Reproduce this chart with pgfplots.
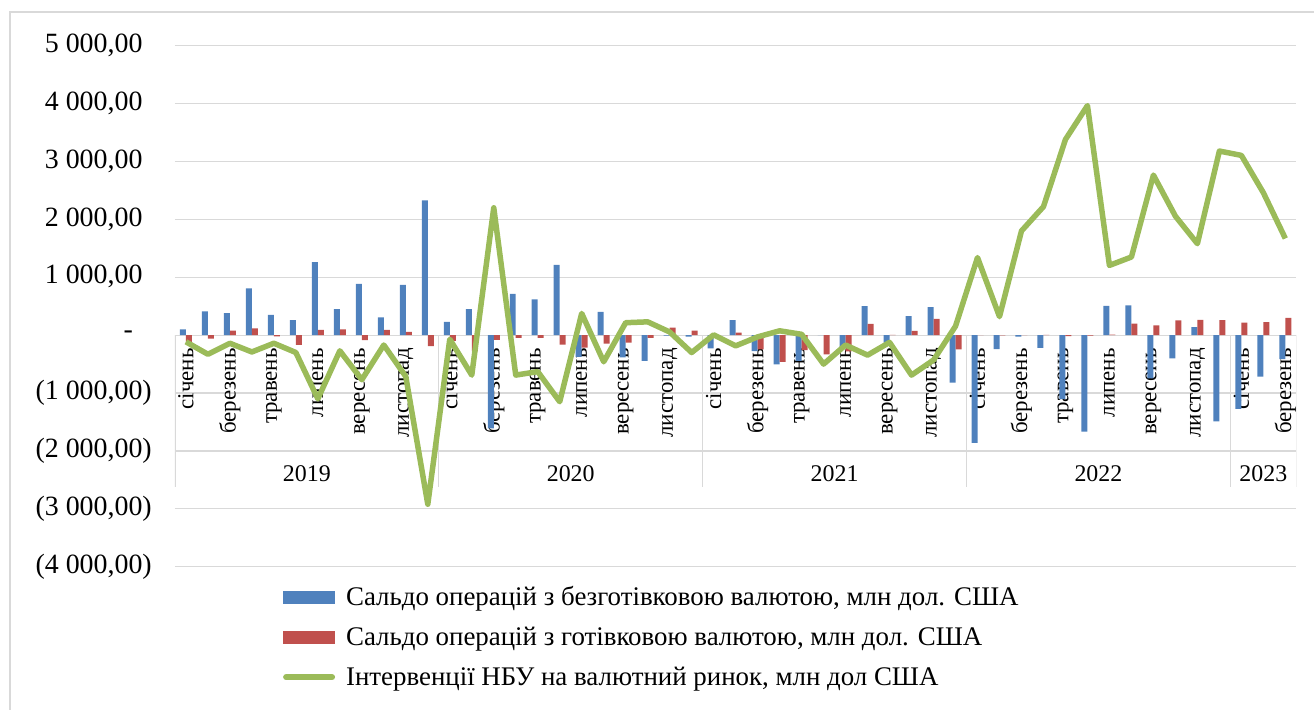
\documentclass[border=0pt]{standalone}
\usepackage{pgfplots}
\pgfplotsset{compat=1.18}
\usepackage{pgfplotstable}
\usepackage{fontspec}
\setmainfont{Liberation Serif}
\definecolor{cblue}{HTML}{4F81BD}
\definecolor{cred}{HTML}{C0504D}
\definecolor{cgreen}{HTML}{9BBB59}
\definecolor{cgrid}{HTML}{D9D9D9}
\pgfplotstableread{
x B R N
0 100 -120 -115
1 410 -60 -330
2 380 80 -140
3 810 115 -290
4 350 -20 -140
5 260 -170 -300
6 1260 90 -1100
7 450 100 -270
8 885 -85 -770
9 305 90 -170
10 870 55 -715
11 2330 -190 -2920
12 230 -100 -70
13 450 -280 -690
14 -1610 -80 2200
15 715 -45 -690
16 620 -45 -630
17 1215 -165 -1150
18 -375 -215 375
19 400 -145 -460
20 -385 -130 215
21 -445 -45 230
22 -10 130 55
23 -25 80 -300
24 -230 0 5
25 260 45 -185
26 -275 -245 -30
27 -505 -460 75
28 -445 -260 15
29 0 -330 -500
30 -210 -280 -170
31 500 196 -345
32 -130 5 -125
33 330 75 -690
34 485 280 -430
35 -820 -245 155
36 -1860 0 1340
37 -240 -5 320
38 -25 0 1800
39 -220 5 2220
40 -1105 -15 3380
41 -1665 -10 3965
42 505 10 1205
43 515 200 1350
44 -745 170 2765
45 -400 255 2055
46 140 265 1580
47 -1490 260 3180
48 -1275 215 3105
49 -715 225 2460
50 -415 300 1670
}\data
\begin{document}
\begin{tikzpicture}
\path (0,0) rectangle (1315bp,710bp);
\draw[cgrid, line width=1.2bp] (10bp,0) -- (10bp,698bp) -- (1315bp,698bp);
\begin{axis}[
  at={(175bp,143bp)}, anchor=south west,
  scale only axis, width=1122bp, height=521.3bp,
  set layers,
  xmin=-0.5, xmax=50.5, ymin=-4000, ymax=5000,
  axis x line*=middle, axis y line*=left,
  x axis line style={draw=cgrid, line width=1.2bp},
  y axis line style={draw=none},
  ymajorgrids, major grid style={draw=cgrid, line width=1.2bp},
  major tick length=0pt,
  ytick={-4000,-3000,...,5000},
  yticklabels={{(4 000,00)},{(3 000,00)},{(2 000,00)},{(1 000,00)},{\makebox[28bp][l]{-}},{1 000,00\phantom{)}},{2 000,00\phantom{)}},{3 000,00\phantom{)}},{4 000,00\phantom{)}},{5 000,00\phantom{)}}},
  yticklabel style={font=\fontsize{28}{32}\selectfont, anchor=east, inner sep=0pt, xshift=-23bp},
  xtick={0,2,...,50},
  xticklabels={січень,березень,травень,липень,вересень,листопад,січень,березень,травень,липень,вересень,листопад,січень,березень,травень,липень,вересень,листопад,січень,березень,травень,липень,вересень,листопад,січень,березень},
  xticklabel style={font=\fontsize{23}{27}\selectfont, rotate=90, anchor=east, inner sep=0pt},
  xticklabel shift=13bp,
  ybar=0pt, bar width=6bp,
  legend style={at={(0.0963,-0.034)}, anchor=north west, draw=none, fill=none, inner sep=0pt,
    font=\fontsize{27}{32}\selectfont, row sep=16bp, cells={anchor=west},
    /tikz/every odd column/.append style={column sep=9bp}},
  legend cell align=left,
]
\draw[cgrid, line width=1.2bp] (axis cs:-0.5,0) -- (axis cs:-0.5,-2620);
\draw[cgrid, line width=1.2bp] (axis cs:11.5,0) -- (axis cs:11.5,-2620);
\draw[cgrid, line width=1.2bp] (axis cs:23.5,0) -- (axis cs:23.5,-2620);
\draw[cgrid, line width=1.2bp] (axis cs:35.5,0) -- (axis cs:35.5,-2620);
\draw[cgrid, line width=1.2bp] (axis cs:47.5,0) -- (axis cs:47.5,-2620);
\draw[cgrid, line width=1.2bp] (axis cs:50.5,0) -- (axis cs:50.5,-2620);
\node[font=\fontsize{24}{28}\selectfont, anchor=base, inner sep=0pt] at (axis cs:5.5,-2533) {2019};
\node[font=\fontsize{24}{28}\selectfont, anchor=base, inner sep=0pt] at (axis cs:17.5,-2533) {2020};
\node[font=\fontsize{24}{28}\selectfont, anchor=base, inner sep=0pt] at (axis cs:29.5,-2533) {2021};
\node[font=\fontsize{24}{28}\selectfont, anchor=base, inner sep=0pt] at (axis cs:41.5,-2533) {2022};
\node[font=\fontsize{24}{28}\selectfont, anchor=base, inner sep=0pt] at (axis cs:49,-2533) {2023};
\addplot[fill=cblue, draw=none, legend image code/.code={\fill[cblue] (0bp,-6.5bp) rectangle (52bp,6.5bp);}] table[x=x, y=B] {\data};
\addlegendentry{Сальдо операцій з безготівковою валютою, млн дол. США}
\addplot[fill=cred, draw=none, legend image code/.code={\fill[cred] (0bp,-6.5bp) rectangle (52bp,6.5bp);}] table[x=x, y=R] {\data};
\addlegendentry{Сальдо операцій з готівковою валютою, млн дол. США}
\addplot[sharp plot, draw=cgreen, line width=5.5bp, line join=round, mark=none, legend image code/.code={\draw[cgreen, line width=6bp, line cap=round] (3bp,0) -- (49bp,0);}] table[x=x, y=N] {\data};
\addlegendentry{Інтервенції НБУ на валютний ринок, млн дол США}
\end{axis}
\end{tikzpicture}
\end{document}
